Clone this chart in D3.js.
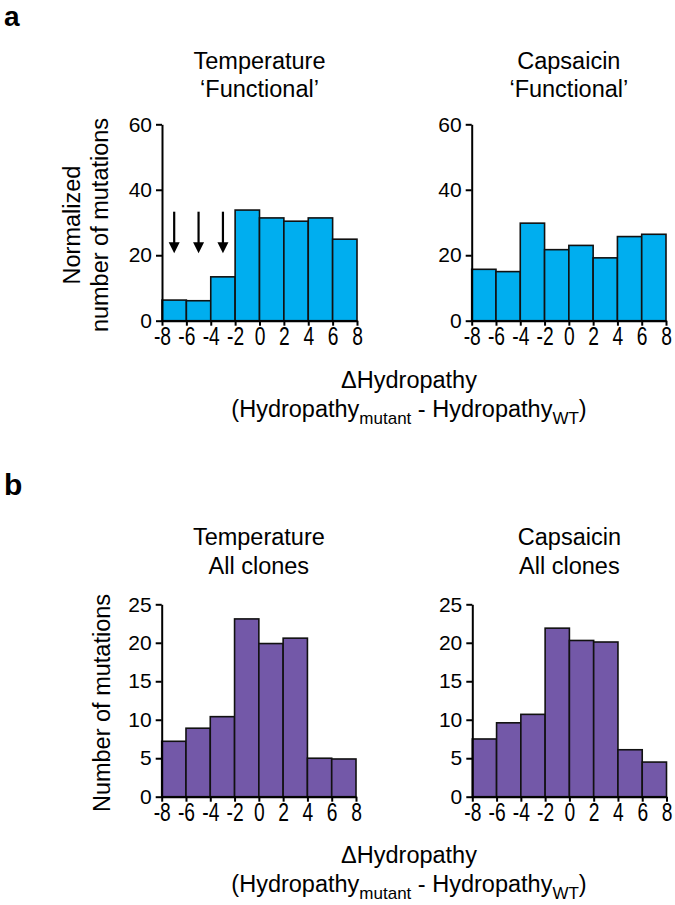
<!DOCTYPE html>
<html><head><meta charset="utf-8">
<script src="https://cdn.jsdelivr.net/npm/d3@7"></script>
<style>
html,body{margin:0;padding:0;background:#fff;}
svg{display:block;font-family:"Liberation Sans",Arial,sans-serif;}
</style></head>
<body>
<svg id="fig" width="675" height="905"></svg>
<script>
// ---- data ----
const binEdges = [-8,-6,-4,-2,0,2,4,6,8];
const xTickLabels = ["-8","-6","-4","-2","0","2","4","6","8"];
const tempFunctional = [6.3, 6.1, 13.4, 33.8, 31.4, 30.4, 31.4, 24.9];
const capsFunctional = [15.7, 15.0, 29.8, 21.7, 23.0, 19.2, 25.7, 26.4];
const tempAll = [7.2, 8.9, 10.4, 23.1, 19.9, 20.6, 5.0, 4.9];
const capsAll = [7.5, 9.6, 10.7, 21.9, 20.3, 20.1, 6.1, 4.5];
const yTicksA = [0,20,40,60];
const yTicksB = [0,5,10,15,20,25];
const arrowX = [-7,-5,-3];
const arrowFrom = 33.3, arrowTo = 20.6;

const blue = "#00aeef", purple = "#7358a8";
const svg = d3.select("#fig");

function panel(o){
  const x = d3.scaleLinear().domain([-8,8]).range([o.x0,o.x1]);
  const y = d3.scaleLinear().domain([0,o.ymax]).range([o.y0,o.y1]);
  const g = svg.append("g");
  const bins = o.values.map((v,i)=>({x0:binEdges[i],x1:binEdges[i+1],v}));
  g.selectAll("rect.bar").data(bins).join("rect").attr("class","bar")
    .attr("x",d=>x(d.x0)).attr("width",d=>x(d.x1)-x(d.x0))
    .attr("y",d=>y(d.v)).attr("height",d=>y(0)-y(d.v))
    .attr("fill",o.color).attr("stroke","#111").attr("stroke-width",1.6);
  const xa = g.append("g").attr("transform",`translate(0,${o.y0})`)
    .call(d3.axisBottom(x).tickValues(binEdges).tickFormat((d,i)=>xTickLabels[i]).tickSize(5).tickSizeOuter(0));
  xa.select(".domain").attr("stroke","#000").attr("stroke-width",2);
  xa.selectAll(".tick line").attr("stroke","#000").attr("stroke-width",2);
  xa.selectAll(".tick text").attr("font-size",26).attr("fill","#000")
    .attr("y",24.5).attr("dy",0).attr("transform","scale(0.74,1)");
  const ya = g.append("g").attr("transform",`translate(${o.x0},0)`)
    .call(d3.axisLeft(y).tickValues(o.yTicks).tickSize(6).tickPadding(4).tickSizeOuter(0));
  ya.select(".domain").attr("stroke","#000").attr("stroke-width",2);
  ya.selectAll(".tick line").attr("stroke","#000").attr("stroke-width",2);
  ya.selectAll(".tick text").attr("font-size",21).attr("fill","#000");
  // titles
  const cx = (o.x0+o.x1)/2;
  o.title.forEach((t,i)=>{
    g.append("text").attr("x",cx).attr("y",o.titleY+i*28.5).attr("text-anchor","middle")
      .attr("font-size",23.5).attr("fill","#000").text(t);
  });
  return {x,y,g};
}

const A1 = panel({x0:162,x1:357,y0:320.7,y1:124.3,ymax:60,values:tempFunctional,color:blue,yTicks:yTicksA,title:["Temperature","\u2018Functional\u2019"],titleY:68.5});
const A2 = panel({x0:471.7,x1:666,y0:320.7,y1:124.3,ymax:60,values:capsFunctional,color:blue,yTicks:yTicksA,title:["Capsaicin","\u2018Functional\u2019"],titleY:68.5});
const B1 = panel({x0:161.7,x1:356,y0:796.7,y1:604.3,ymax:25,values:tempAll,color:purple,yTicks:yTicksB,title:["Temperature","All clones"],titleY:545});
const B2 = panel({x0:472.3,x1:666.5,y0:796.7,y1:604.3,ymax:25,values:capsAll,color:purple,yTicks:yTicksB,title:["Capsaicin","All clones"],titleY:545});

// arrows
arrowX.forEach(v=>{
  const xx = A1.x(v), yt = A1.y(arrowFrom), yb = A1.y(arrowTo);
  A1.g.append("line").attr("x1",xx).attr("x2",xx).attr("y1",yt).attr("y2",yb-8)
    .attr("stroke","#000").attr("stroke-width",2.2);
  A1.g.append("path").attr("d",`M${xx-5.5},${yb-11}L${xx+5.5},${yb-11}L${xx},${yb}Z`).attr("fill","#000");
});

// panel letters
svg.append("text").attr("x",4).attr("y",25.5).attr("font-size",28).attr("font-weight","bold").text("a");
svg.append("text").attr("x",4).attr("y",495).attr("font-size",30).attr("font-weight","bold").text("b");

// y axis labels
function ylab(lines,cx,cy){
  lines.forEach((t,i)=>{
    svg.append("text").attr("transform",`translate(${cx[i]},${cy}) rotate(-90)`)
      .attr("text-anchor","middle").attr("font-size",23.5).text(t);
  });
}
ylab(["Normalized","number of mutations"],[80,108],225);
ylab(["Number of mutations"],[110],703);

// x axis titles
function xtitle(y1){
  svg.append("text").attr("x",409).attr("y",y1).attr("text-anchor","middle").attr("font-size",23.5).text("\u0394Hydropathy");
  const t = svg.append("text").attr("x",409).attr("y",y1+29).attr("text-anchor","middle").attr("font-size",23.5);
  t.append("tspan").text("(Hydropathy");
  t.append("tspan").attr("font-size",17).attr("dy",7).text("mutant");
  t.append("tspan").attr("dy",-7).text(" - Hydropathy");
  t.append("tspan").attr("font-size",17).attr("dy",7).text("WT");
  t.append("tspan").attr("dy",-7).text(")");
}
xtitle(388);
xtitle(863);
</script>
</body></html>
